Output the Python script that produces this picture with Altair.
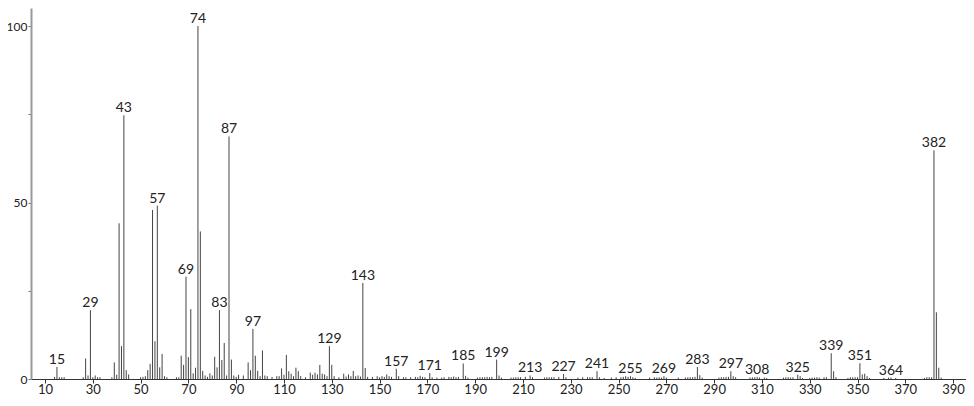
import altair as alt
import pandas as pd

# m/z values and relative intensities
mz = [14, 15, 16, 17, 18, 26, 27, 28, 29, 30, 31, 32, 33, 38, 39, 40, 41, 42, 43, 44, 45,
      50, 51, 52, 53, 54, 55, 56, 57, 58, 59, 60, 61, 65, 66, 67, 68, 69, 70, 71, 72, 73,
      74, 75, 76, 77, 78, 79, 80, 81, 82, 83, 84, 85, 86, 87, 88, 89, 90, 91, 93, 95, 96,
      97, 98, 99, 100, 101, 102, 103, 105, 107, 108, 109, 110, 111, 112, 113, 114, 115,
      116, 117, 119, 121, 122, 123, 124, 125, 126, 127, 128, 129, 130, 131, 133, 135, 136,
      137, 138, 139, 140, 141, 142, 143, 144, 145, 147, 149, 150, 151, 152, 153, 154, 155,
      157, 158, 160, 161, 163, 165, 166, 167, 168, 169, 171, 172, 174, 176, 177, 179, 180,
      181, 182, 183, 185, 186, 187, 191, 192, 193, 194, 195, 196, 197, 199, 200, 201, 205,
      206, 207, 208, 209, 211, 213, 214, 219, 220, 221, 222, 223, 225, 227, 228, 233, 235,
      237, 238, 239, 241, 242, 244, 247, 249, 251, 252, 253, 254, 255, 256, 257, 263, 265,
      266, 267, 268, 269, 270, 275, 278, 279, 280, 281, 282, 283, 284, 285, 292, 293, 294,
      295, 296, 297, 298, 299, 305, 306, 307, 308, 309, 311, 312, 319, 320, 321, 322, 323,
      325, 326, 327, 330, 331, 332, 333, 334, 336, 337, 339, 340, 341, 346, 347, 348, 349,
      350, 351, 352, 353, 354, 355, 361, 363, 364, 366, 378, 379, 380, 381, 382, 383, 384,
      385]
intensity = [0.6, 3.4, 0.5, 0.5, 0.5, 0.5, 5.8, 1.0, 19.5, 0.5, 1.0, 0.5, 0.5, 0.5, 4.7, 1.2,
             44.1, 9.3, 74.7, 2.5, 1.3,
             0.5, 0.6, 0.8, 2.5, 4.3, 47.9, 10.7, 49.1, 3.3, 7.1, 0.8, 0.5, 0.5, 0.5, 6.6,
             4.0, 29.0, 6.2, 19.8, 1.6, 3.2,
             100.0, 41.8, 2.3, 1.0, 0.6, 1.6, 1.0, 6.3, 3.3, 19.5, 5.4, 10.2, 1.0, 68.7, 5.5,
             1.0, 0.6, 1.2, 1.0, 4.7, 2.5,
             14.2, 6.6, 2.3, 0.8, 8.1, 1.0, 0.8, 0.6, 0.8, 0.8, 3.0, 1.2, 6.8, 2.2, 1.5, 0.8,
             3.2,
             2.2, 0.8, 0.5, 1.8, 1.2, 1.8, 1.3, 4.0, 1.5, 1.3, 0.8, 9.3, 4.0, 0.8, 0.5, 1.5,
             0.7,
             1.3, 0.8, 2.3, 0.8, 1.0, 0.7, 27.2, 3.1, 0.6, 0.6, 0.8, 0.5, 0.8, 0.6, 1.3, 0.8,
             0.6,
             2.9, 0.8, 0.5, 0.5, 0.5, 0.6, 0.5, 0.9, 0.6, 0.5, 1.7, 0.5, 0.4, 0.4, 0.5, 0.6,
             0.5,
             0.7, 0.5, 0.6, 4.4, 0.9, 0.4, 0.4, 0.5, 0.5, 0.5, 0.6, 0.5, 0.6, 5.5, 1.0, 0.4,
             0.4,
             0.4, 0.5, 0.5, 0.5, 0.6, 1.0, 0.5, 0.4, 0.5, 0.5, 0.5, 0.5, 0.6, 1.4, 0.5, 0.4,
             0.5,
             0.5, 0.5, 0.5, 2.2, 0.5, 0.3, 0.4, 0.5, 0.5, 0.6, 0.8, 0.6, 0.8, 0.5, 0.3, 0.4,
             0.5,
             0.4, 0.5, 0.4, 0.8, 0.4, 0.4, 0.4, 0.5, 0.5, 0.5, 0.6, 3.4, 1.1, 0.4, 0.4, 0.5,
             0.5,
             0.6, 0.6, 2.2, 0.8, 0.5, 0.4, 0.5, 0.5, 0.6, 0.4, 0.4, 0.3, 0.4, 0.5, 0.5, 0.4,
             0.5,
             1.2, 0.8, 0.3, 0.3, 0.4, 0.4, 0.5, 0.4, 0.5, 0.5, 7.3, 2.2, 0.5, 0.3, 0.5, 0.5,
             0.5,
             0.5, 4.5, 1.3, 1.5, 0.8, 0.3, 0.3, 0.4, 0.4, 0.3, 0.3, 0.5, 0.5, 0.5, 64.8, 18.9,
             3.2,
             0.4]

label_mz = [15, 29, 43, 57, 69, 74, 83, 87, 97, 129, 143, 157, 171, 185, 199, 213, 227,
            241, 255, 269, 283, 297, 308, 325, 339, 351, 364, 382]

x_ticks = list(range(10, 400, 10))
y_ticks = [0, 25, 50, 75, 100]

df = pd.DataFrame({"mz": mz, "intensity": intensity})
labels = df[df["mz"].isin(label_mz)].copy()
labels["text"] = labels["mz"].astype(str)

FONT = "Lato"

x_enc = alt.X(
    "mz:Q",
    scale=alt.Scale(domain=[4.14, 395.4], nice=False, zero=False),
    axis=alt.Axis(
        values=x_ticks,
        labelExpr="(datum.value - 10) % 20 == 0 ? datum.label : ''",
        grid=False, title=None, tickSize=4, labelPadding=0,
        domainColor="#333333", tickColor="#333333", labelColor="#222222",
        labelFont=FONT, labelFontSize=13, labelFlush=False,
    ),
)
y_enc = alt.Y(
    "intensity:Q",
    scale=alt.Scale(domain=[0, 105.1], nice=False),
    axis=alt.Axis(
        values=y_ticks,
        labelExpr="datum.value % 50 == 0 ? datum.label : ''",
        grid=False, title=None, tickSize=3, labelPadding=1,
        domainColor="#999999", domainWidth=2, tickColor="#777777",
        labelColor="#222222", labelFont=FONT, labelFontSize=12,
    ),
)

rules = alt.Chart(df).mark_rule(color="#444444", strokeWidth=1).encode(
    x=x_enc, y=y_enc, y2=alt.datum(0)
)

texts = alt.Chart(labels).mark_text(
    dy=-3, baseline="alphabetic", align="center", fontSize=14, font=FONT, color="#222222"
).encode(
    x=alt.X("mz:Q"), y=alt.Y("intensity:Q"), text="text:N"
)

chart = (
    alt.layer(rules, texts)
    .properties(
        width=935, height=371,
        autosize=alt.AutoSizeParams(type="none"),
        padding={"left": 23, "top": 0, "right": 0, "bottom": 19},
    )
    .configure_view(stroke=None)
)

chart.save("out.html", embed_options={"renderer": "svg", "actions": False})
